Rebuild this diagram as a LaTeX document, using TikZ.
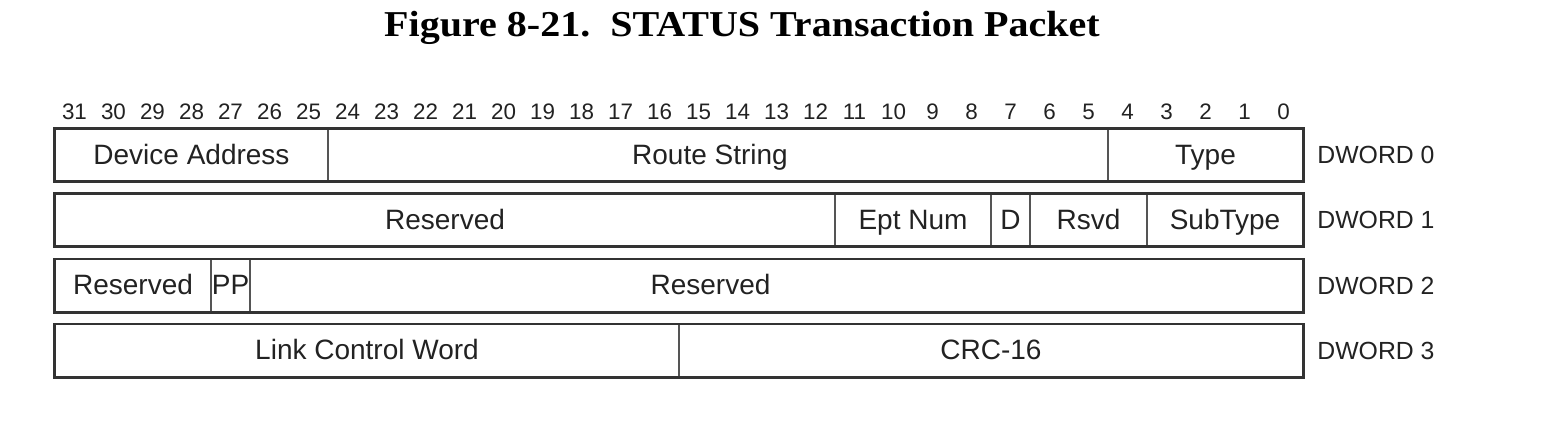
\documentclass[tikz,border=0pt]{standalone}
\usepackage{fontspec}
\setmainfont{Liberation Sans}
\newfontfamily\titlefont[FakeStretch=1.1]{Liberation Serif}
\definecolor{edge}{HTML}{333333}
\definecolor{divl}{HTML}{555555}
\definecolor{ink}{HTML}{222222}
\begin{document}
\begin{tikzpicture}[x=0.5pt,y=-0.5pt,
  field/.style={draw=divl, line width=0.7pt, minimum height=26pt, inner sep=0pt,
    text height=12pt, text depth=3pt,
    font=\fontsize{14}{16}\selectfont, text=ink},
  rowbox/.style={draw=edge, line width=1.3pt},
  bitnum/.style={font=\fontsize{11.2}{13}\selectfont, text=ink, inner sep=0pt},
  dword/.style={font=\fontsize{12.4}{14}\selectfont, text=ink, anchor=west, inner sep=0pt},
  titlestyle/.style={font=\titlefont\bfseries\fontsize{18.2}{20}\selectfont, text=black, anchor=base, inner sep=0pt}]
\useasboundingbox (0,0) rectangle (1551,436);
\node[titlestyle] (title) at (742,36) {Figure 8-21.\ \ STATUS Transaction Packet};
\foreach \b in {0,...,31}
  \node[bitnum] (bit\b) at ({55+(31.5-\b)*39},111.5) {\b};
\foreach \n/\h/\l/\r/\t in {
  a0/31/25/155/Device Address, b0/24/5/155/Route String\hspace*{8pt}, c0/4/0/155/Type,
  a1/31/12/220/Reserved, b1/11/8/220/Ept Num, c1/7/7/220/D, d1/6/4/220/Rsvd, e1/3/0/220/SubType,
  a2/31/28/285.5/Reserved, b2/27/27/285.5/PP, c2/26/0/285.5/Reserved\hspace*{66pt},
  a3/31/16/350.5/Link Control Word, b3/15/0/350.5/CRC-16} {
  \pgfmathsetmacro\fw{(\h-\l+1)*19.5}
  \pgfmathsetmacro\cx{55+(63-\h-\l)/2*39}
  \node[field, minimum width=\fw pt] (\n) at (\cx,\r) {\t};
}
\draw[rowbox] (a0.north west) rectangle (c0.south east);
\draw[rowbox] (a1.north west) rectangle (e1.south east);
\draw[rowbox] (a2.north west) rectangle (c2.south east);
\draw[rowbox] (a3.north west) rectangle (b3.south east);
\node[dword] (dw0) at (1317,155) {DWORD 0};
\node[dword] (dw1) at (1317,220) {DWORD 1};
\node[dword] (dw2) at (1317,285.5) {DWORD 2};
\node[dword] (dw3) at (1317,350.5) {DWORD 3};
\end{tikzpicture}
\end{document}
